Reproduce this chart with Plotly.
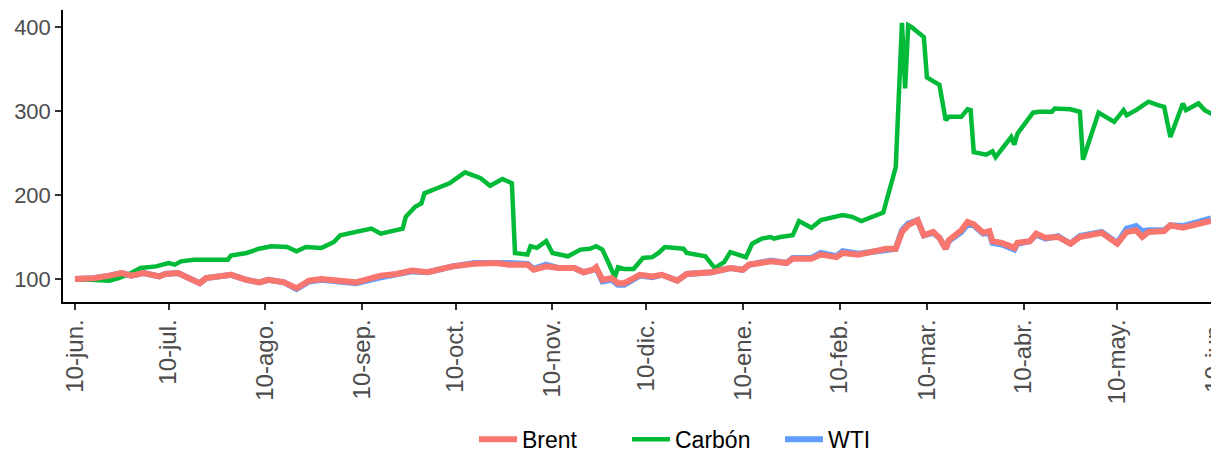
import plotly.graph_objects as go

# ---------------- data (index, base = 100) ----------------
carbon_dates = ["2021-06-10","2021-06-15","2021-06-21","2021-06-24","2021-06-28","2021-07-01","2021-07-06","2021-07-10","2021-07-12","2021-07-14",
    "2021-07-18","2021-07-29","2021-07-30","2021-08-04","2021-08-08","2021-08-12","2021-08-17","2021-08-20","2021-08-23","2021-08-28",
    "2021-09-01","2021-09-03","2021-09-07","2021-09-13","2021-09-16","2021-09-19","2021-09-23","2021-09-24","2021-09-27","2021-09-29",
    "2021-09-30","2021-10-04","2021-10-08","2021-10-13","2021-10-16","2021-10-18","2021-10-21","2021-10-25","2021-10-28","2021-10-29",
    "2021-11-02","2021-11-03","2021-11-05","2021-11-08","2021-11-10","2021-11-15","2021-11-19","2021-11-22","2021-11-24","2021-11-26",
    "2021-11-28","2021-11-30","2021-12-01","2021-12-03","2021-12-06","2021-12-09","2021-12-12","2021-12-14","2021-12-16","2021-12-22",
    "2021-12-23","2021-12-29","2022-01-01","2022-01-04","2022-01-06","2022-01-08","2022-01-11","2022-01-13","2022-01-16","2022-01-19",
    "2022-01-20","2022-01-22","2022-01-26","2022-01-28","2022-02-01","2022-02-04","2022-02-11","2022-02-14","2022-02-17","2022-02-24",
    "2022-02-28","2022-03-02","2022-03-03","2022-03-04","2022-03-05","2022-03-09","2022-03-10","2022-03-14","2022-03-16","2022-03-17",
    "2022-03-21","2022-03-23","2022-03-24","2022-03-25","2022-03-29","2022-03-31","2022-04-01","2022-04-06","2022-04-07","2022-04-08",
    "2022-04-13","2022-04-15","2022-04-19","2022-04-20","2022-04-25","2022-04-28","2022-04-29","2022-05-04","2022-05-09","2022-05-12",
    "2022-05-13","2022-05-16","2022-05-20","2022-05-23","2022-05-25","2022-05-27","2022-05-31","2022-06-01","2022-06-05","2022-06-07",
    "2022-06-10"]
carbon_values = [100, 99, 98, 101, 107, 113, 115, 119, 117, 121,
    123, 123, 128, 131, 136, 139, 138, 133, 138, 137,
    144, 152, 155, 160, 154, 156, 160, 174, 186, 190,
    202, 208, 214, 227, 222, 220, 211, 219, 214, 131,
    129, 139, 137, 145, 131, 127, 135, 136, 139, 135,
    119, 102, 114, 112, 112, 125, 126, 131, 138, 136,
    131, 127, 113, 120, 132, 130, 126, 142, 148, 150,
    148, 150, 152, 169, 161, 170, 176, 174, 169, 179,
    233, 405, 327, 402, 400, 388, 340, 331, 289, 293,
    293, 302, 301, 251, 248, 252, 245, 269, 260, 273,
    298, 299, 299, 303, 302, 299, 242, 298, 287, 301,
    295, 301, 311, 307, 305, 269, 309, 301, 309, 301,
    295]

oil_dates = ["2021-06-10","2021-06-16","2021-06-21","2021-06-25","2021-06-28","2021-07-02","2021-07-07","2021-07-09","2021-07-13","2021-07-17",
    "2021-07-20","2021-07-22","2021-07-26","2021-07-30","2021-08-04","2021-08-08","2021-08-11","2021-08-16","2021-08-20","2021-08-24",
    "2021-08-28","2021-08-31","2021-09-04","2021-09-08","2021-09-16","2021-09-21","2021-09-26","2021-10-01","2021-10-09","2021-10-16",
    "2021-10-23","2021-10-27","2021-11-02","2021-11-04","2021-11-08","2021-11-12","2021-11-17","2021-11-20","2021-11-23","2021-11-24",
    "2021-11-26","2021-11-29","2021-12-01","2021-12-03","2021-12-08","2021-12-12","2021-12-15","2021-12-20","2021-12-23","2021-12-28",
    "2021-12-31","2022-01-06","2022-01-10","2022-01-12","2022-01-19","2022-01-24","2022-01-26","2022-02-01","2022-02-04","2022-02-09",
    "2022-02-11","2022-02-16","2022-02-23","2022-02-25","2022-02-28","2022-03-02","2022-03-04","2022-03-07","2022-03-09","2022-03-12",
    "2022-03-14","2022-03-16","2022-03-17","2022-03-21","2022-03-23","2022-03-25","2022-03-28","2022-03-30","2022-03-31","2022-04-03",
    "2022-04-07","2022-04-08","2022-04-12","2022-04-14","2022-04-17","2022-04-21","2022-04-25","2022-04-28","2022-05-05","2022-05-10",
    "2022-05-13","2022-05-16","2022-05-18","2022-05-20","2022-05-25","2022-05-27","2022-05-31","2022-06-05","2022-06-09"]
brent_values = [100, 101, 104, 107, 104, 107, 103, 106, 107, 101,
    95, 101, 103, 105, 99, 96, 99, 96, 89, 98,
    100, 99, 98, 96, 104, 106, 110, 108, 115, 118,
    119, 117, 117, 111, 115, 113, 113, 108, 111, 114,
    99, 101, 95, 95, 105, 103, 105, 98, 106, 108,
    108, 113, 111, 117, 121, 119, 124, 124, 129, 126,
    131, 129, 135, 136, 136, 156, 164, 170, 152, 156,
    149, 136, 146, 158, 168, 165, 155, 157, 145, 143,
    137, 143, 145, 154, 149, 150, 142, 150, 155, 142,
    156, 158, 150, 156, 157, 164, 161, 165, 169]
wti_values = [100, 101, 104, 107, 104, 107, 103, 106, 107, 101,
    95, 101, 103, 105, 99, 96, 99, 96, 88, 97,
    99, 98, 96, 95, 102, 105, 109, 108, 115, 119,
    120, 119, 118, 112, 117, 113, 113, 108, 111, 113,
    97, 99, 93, 93, 104, 102, 105, 98, 106, 108,
    108, 113, 111, 117, 122, 119, 125, 125, 131, 127,
    133, 130, 134, 135, 136, 158, 166, 170, 152, 155,
    149, 136, 145, 156, 165, 164, 154, 155, 143, 141,
    135, 142, 145, 153, 148, 151, 142, 151, 156, 143,
    160, 163, 157, 158, 158, 164, 163, 168, 172]

tick_dates = ["2021-06-10","2021-07-10","2021-08-10","2021-09-10","2021-10-10","2021-11-10","2021-12-10",
              "2022-01-10","2022-02-10","2022-03-10","2022-04-10","2022-05-10","2022-06-10"]
tick_labels = ["10-jun.","10-jul.","10-ago.","10-sep.","10-oct.","10-nov.","10-dic.",
               "10-ene.","10-feb.","10-mar.","10-abr.","10-may.","10-jun."]
y_ticks = [100, 200, 300, 400]

assert len(carbon_dates) == len(carbon_values)
assert len(oil_dates) == len(brent_values) == len(wti_values)

COL_BRENT = "#F8766D"
COL_CARBON = "#00BA38"
COL_WTI = "#619CFF"

fig = go.Figure()
# drawing order: WTI underneath, then Carbón, Brent on top
fig.add_trace(go.Scatter(x=oil_dates, y=wti_values, mode="lines", name="WTI",
                         line=dict(color=COL_WTI, width=6), legendrank=3))
fig.add_trace(go.Scatter(x=carbon_dates, y=carbon_values, mode="lines", name="Carbón",
                         line=dict(color=COL_CARBON, width=4.5), legendrank=2))
fig.add_trace(go.Scatter(x=oil_dates, y=brent_values, mode="lines", name="Brent",
                         line=dict(color=COL_BRENT, width=6), legendrank=1))

# the page adds an 8px body margin, so the figure is sized/offset to compensate
fig.update_layout(
    width=1211, height=445,
    margin=dict(l=55, r=0, t=2, b=151, autoexpand=False),
    paper_bgcolor="white", plot_bgcolor="white",
    font=dict(family="Liberation Sans, Arial, sans-serif", color="black"),
    showlegend=True,
    legend=dict(orientation="h", x=(474 - 63) / 1156, xanchor="left", y=-0.47, yanchor="middle",
                font=dict(size=23, color="black"), traceorder="normal",
                itemwidth=38, entrywidth=100, entrywidthmode="pixels"),
)
fig.update_xaxes(
    type="date", automargin=False,
    range=["2021-06-06 04:00", "2022-06-11 14:00"],
    tickmode="array", tickvals=tick_dates, ticktext=tick_labels,
    tickangle=-90, tickfont=dict(size=24, color="#4D4D4D"),
    ticklabeloverflow="allow",
    ticks="outside", ticklen=6, tickwidth=1.5, tickcolor="#333333",
    showline=True, linecolor="black", linewidth=1.5,
    showgrid=False, zeroline=False,
)
fig.update_yaxes(
    automargin=False,
    range=[72.6, 420.2],
    tickmode="array", tickvals=y_ticks,
    tickfont=dict(size=22, color="#4D4D4D"),
    ticks="outside", ticklen=6, tickwidth=1.5, tickcolor="#333333",
    showline=True, linecolor="black", linewidth=1.5,
    showgrid=False, zeroline=False,
)

fig.write_html("out.html")
